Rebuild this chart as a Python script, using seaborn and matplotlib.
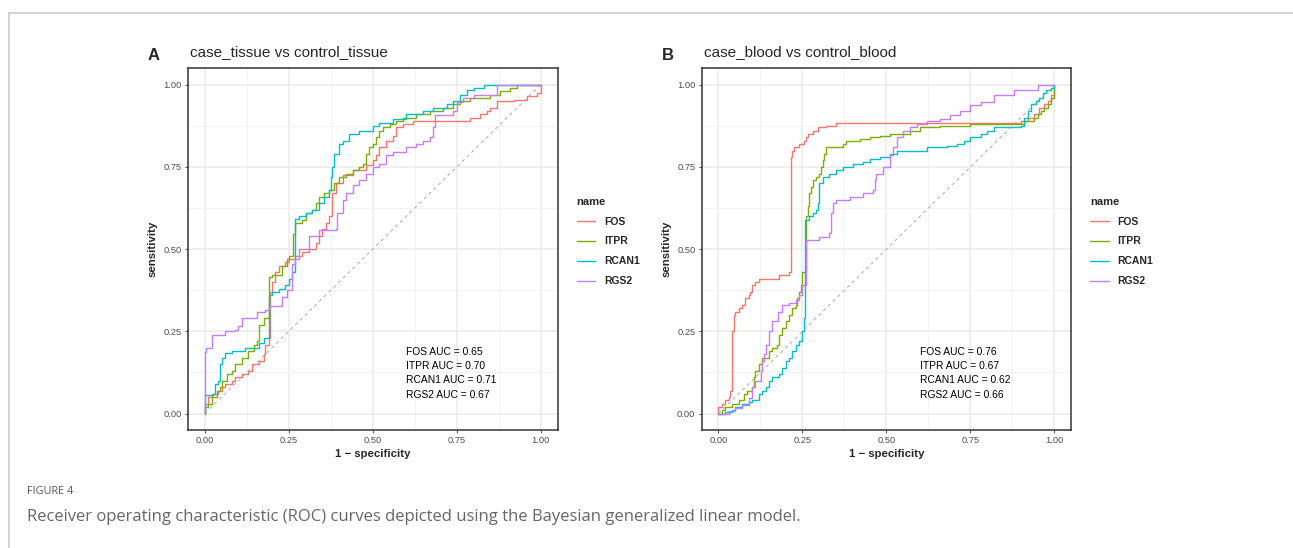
import numpy as np
import pandas as pd
import matplotlib
matplotlib.use("Agg")
import matplotlib.pyplot as plt
from matplotlib.lines import Line2D
import seaborn as sns


genes = ["FOS", "ITPR", "RCAN1", "RGS2"]
palette = ["#F8766D", "#7CAE00", "#00BFC4", "#C77CFF"]
tick_values = [0.0, 0.25, 0.5, 0.75, 1.0]
tick_labels = ["0.00", "0.25", "0.50", "0.75", "1.00"]
minor_values = [0.125, 0.375, 0.625, 0.875]

# panel A: case_tissue vs control_tissue
tissue_fos_fpr = [0.00, 0.00, 0.01, 0.02, 0.04, 0.05, 0.06, 0.08, 0.09, 0.11, 0.13, 0.14, 0.16, 0.175, 0.18, 0.19, 0.195, 0.20, 0.21, 0.22, 0.24, 0.25, 0.27, 0.29, 0.31, 0.33, 0.34, 0.35, 0.36, 0.37, 0.38, 0.39, 0.41, 0.44, 0.48, 0.50, 0.51, 0.52, 0.54, 0.56, 0.57, 0.59, 0.62, 0.79, 0.82, 0.84, 0.85, 0.87, 0.92, 0.96, 0.99, 1.00]
tissue_fos_tpr = [0.00, 0.03, 0.05, 0.06, 0.07, 0.08, 0.09, 0.10, 0.11, 0.12, 0.13, 0.15, 0.16, 0.18, 0.21, 0.23, 0.37, 0.40, 0.43, 0.45, 0.46, 0.47, 0.48, 0.49, 0.50, 0.52, 0.54, 0.56, 0.58, 0.60, 0.67, 0.70, 0.725, 0.74, 0.755, 0.77, 0.785, 0.81, 0.83, 0.845, 0.87, 0.88, 0.89, 0.90, 0.91, 0.92, 0.93, 0.95, 0.955, 0.965, 0.975, 1.00]

tissue_itpr_fpr = [0.00, 0.00, 0.01, 0.02, 0.035, 0.045, 0.05, 0.065, 0.08, 0.09, 0.11, 0.13, 0.145, 0.155, 0.16, 0.175, 0.19, 0.20, 0.23, 0.245, 0.25, 0.262, 0.27, 0.29, 0.30, 0.32, 0.33, 0.34, 0.355, 0.37, 0.385, 0.40, 0.42, 0.44, 0.46, 0.47, 0.48, 0.49, 0.50, 0.51, 0.52, 0.53, 0.55, 0.57, 0.59, 0.63, 0.67, 0.71, 0.74, 0.76, 0.79, 0.85, 0.88, 0.91, 0.93, 1.00]
tissue_itpr_tpr = [0.00, 0.02, 0.03, 0.05, 0.07, 0.08, 0.10, 0.12, 0.13, 0.15, 0.17, 0.19, 0.21, 0.22, 0.27, 0.29, 0.415, 0.42, 0.45, 0.47, 0.48, 0.545, 0.58, 0.59, 0.61, 0.62, 0.64, 0.66, 0.67, 0.68, 0.70, 0.72, 0.73, 0.74, 0.75, 0.76, 0.79, 0.81, 0.82, 0.84, 0.86, 0.87, 0.88, 0.89, 0.90, 0.91, 0.92, 0.93, 0.94, 0.95, 0.96, 0.97, 0.98, 0.99, 1.00, 1.00]

tissue_rcan1_fpr = [0.00, 0.00, 0.025, 0.03, 0.04, 0.045, 0.05, 0.06, 0.08, 0.12, 0.16, 0.175, 0.19, 0.20, 0.22, 0.24, 0.25, 0.26, 0.268, 0.28, 0.30, 0.32, 0.34, 0.355, 0.37, 0.375, 0.38, 0.385, 0.40, 0.41, 0.43, 0.46, 0.50, 0.52, 0.56, 0.60, 0.65, 0.68, 0.72, 0.74, 0.76, 0.78, 0.80, 0.83, 1.00]
tissue_rcan1_tpr = [0.00, 0.055, 0.06, 0.09, 0.10, 0.15, 0.17, 0.185, 0.19, 0.20, 0.215, 0.23, 0.36, 0.37, 0.38, 0.39, 0.41, 0.43, 0.593, 0.60, 0.61, 0.62, 0.64, 0.66, 0.68, 0.72, 0.75, 0.79, 0.82, 0.83, 0.85, 0.86, 0.876, 0.885, 0.895, 0.91, 0.92, 0.93, 0.94, 0.95, 0.97, 0.985, 0.99, 1.00, 1.00]

tissue_rgs2_fpr = [0.00, 0.00, 0.005, 0.02, 0.06, 0.09, 0.10, 0.11, 0.155, 0.18, 0.19, 0.23, 0.245, 0.26, 0.27, 0.28, 0.31, 0.34, 0.39, 0.395, 0.41, 0.42, 0.44, 0.46, 0.48, 0.50, 0.52, 0.54, 0.56, 0.60, 0.63, 0.65, 0.67, 0.68, 0.685, 0.74, 0.75, 0.77, 0.80, 0.87, 1.00]
tissue_rgs2_tpr = [0.00, 0.188, 0.20, 0.24, 0.25, 0.255, 0.265, 0.29, 0.31, 0.315, 0.327, 0.355, 0.375, 0.456, 0.47, 0.50, 0.54, 0.557, 0.56, 0.61, 0.65, 0.67, 0.695, 0.71, 0.73, 0.75, 0.76, 0.785, 0.795, 0.81, 0.82, 0.83, 0.84, 0.87, 0.907, 0.92, 0.947, 0.96, 0.97, 1.00, 1.00]

# panel B: case_blood vs control_blood
blood_fos_fpr = [0.00, 0.00, 0.01, 0.02, 0.03, 0.035, 0.04, 0.045, 0.05, 0.06, 0.07, 0.08, 0.09, 0.095, 0.10, 0.11, 0.12, 0.18, 0.21, 0.215, 0.22, 0.225, 0.24, 0.255, 0.26, 0.265, 0.28, 0.295, 0.32, 0.35, 0.90, 0.92, 0.94, 0.955, 0.97, 0.98, 0.99, 1.00]
blood_fos_tpr = [0.00, 0.02, 0.03, 0.04, 0.05, 0.07, 0.25, 0.30, 0.31, 0.32, 0.33, 0.35, 0.36, 0.37, 0.39, 0.40, 0.41, 0.42, 0.43, 0.78, 0.80, 0.81, 0.82, 0.83, 0.84, 0.85, 0.86, 0.87, 0.875, 0.884, 0.89, 0.90, 0.91, 0.93, 0.94, 0.95, 0.97, 1.00]

blood_itpr_fpr = [0.00, 0.01, 0.02, 0.04, 0.06, 0.075, 0.085, 0.10, 0.105, 0.11, 0.12, 0.13, 0.15, 0.16, 0.175, 0.18, 0.19, 0.20, 0.21, 0.22, 0.23, 0.235, 0.24, 0.245, 0.25, 0.26, 0.265, 0.27, 0.275, 0.28, 0.29, 0.30, 0.305, 0.31, 0.315, 0.32, 0.37, 0.38, 0.42, 0.45, 0.48, 0.51, 0.57, 0.60, 0.66, 0.75, 0.91, 0.94, 0.95, 0.96, 0.97, 0.98, 0.99, 1.00, 1.00]
blood_itpr_tpr = [0.00, 0.01, 0.02, 0.03, 0.04, 0.06, 0.07, 0.08, 0.11, 0.13, 0.15, 0.17, 0.19, 0.20, 0.21, 0.24, 0.26, 0.28, 0.30, 0.32, 0.33, 0.35, 0.37, 0.39, 0.43, 0.60, 0.63, 0.67, 0.69, 0.71, 0.72, 0.73, 0.75, 0.77, 0.79, 0.81, 0.82, 0.83, 0.835, 0.84, 0.845, 0.85, 0.86, 0.87, 0.875, 0.88, 0.89, 0.90, 0.91, 0.92, 0.93, 0.94, 0.96, 0.97, 1.00]

blood_rcan1_fpr = [0.00, 0.02, 0.04, 0.05, 0.07, 0.09, 0.10, 0.12, 0.13, 0.14, 0.15, 0.16, 0.18, 0.19, 0.20, 0.21, 0.22, 0.23, 0.24, 0.25, 0.254, 0.258, 0.27, 0.28, 0.29, 0.295, 0.30, 0.31, 0.33, 0.35, 0.37, 0.40, 0.43, 0.45, 0.48, 0.51, 0.53, 0.62, 0.68, 0.71, 0.73, 0.75, 0.78, 0.80, 0.82, 0.90, 0.91, 0.92, 0.93, 0.945, 0.955, 0.965, 0.975, 0.99, 1.00]
blood_rcan1_tpr = [0.00, 0.005, 0.01, 0.02, 0.03, 0.035, 0.04, 0.06, 0.07, 0.08, 0.10, 0.11, 0.12, 0.14, 0.16, 0.17, 0.19, 0.21, 0.22, 0.25, 0.29, 0.59, 0.60, 0.61, 0.62, 0.64, 0.70, 0.72, 0.73, 0.74, 0.75, 0.76, 0.765, 0.775, 0.78, 0.79, 0.80, 0.81, 0.815, 0.82, 0.83, 0.84, 0.85, 0.86, 0.87, 0.875, 0.90, 0.92, 0.94, 0.95, 0.96, 0.975, 0.985, 0.99, 1.00]

blood_rgs2_fpr = [0.00, 0.03, 0.05, 0.07, 0.09, 0.10, 0.11, 0.126, 0.13, 0.135, 0.14, 0.15, 0.16, 0.176, 0.19, 0.21, 0.23, 0.24, 0.25, 0.26, 0.30, 0.33, 0.335, 0.34, 0.35, 0.39, 0.43, 0.46, 0.465, 0.47, 0.49, 0.51, 0.52, 0.53, 0.55, 0.57, 0.59, 0.62, 0.66, 0.69, 0.72, 0.75, 0.78, 0.82, 0.88, 0.95, 1.00]
blood_rgs2_tpr = [0.00, 0.008, 0.016, 0.026, 0.047, 0.08, 0.10, 0.13, 0.16, 0.18, 0.21, 0.25, 0.28, 0.31, 0.33, 0.335, 0.345, 0.36, 0.39, 0.527, 0.537, 0.55, 0.61, 0.64, 0.65, 0.66, 0.67, 0.68, 0.71, 0.73, 0.75, 0.785, 0.81, 0.84, 0.86, 0.87, 0.88, 0.89, 0.897, 0.907, 0.92, 0.937, 0.947, 0.968, 0.985, 1.00, 1.00]

tissue_auc = [0.65, 0.70, 0.71, 0.67]
blood_auc = [0.76, 0.67, 0.62, 0.66]


def make_df(curves):
    frames = []
    for gene, (fpr, tpr) in zip(genes, curves):
        frames.append(pd.DataFrame({"fpr": fpr, "tpr": tpr, "name": gene}))
    return pd.concat(frames, ignore_index=True)


tissue_df = make_df([(tissue_fos_fpr, tissue_fos_tpr), (tissue_itpr_fpr, tissue_itpr_tpr),
                     (tissue_rcan1_fpr, tissue_rcan1_tpr), (tissue_rgs2_fpr, tissue_rgs2_tpr)])
blood_df = make_df([(blood_fos_fpr, blood_fos_tpr), (blood_itpr_fpr, blood_itpr_tpr),
                    (blood_rcan1_fpr, blood_rcan1_tpr), (blood_rgs2_fpr, blood_rgs2_tpr)])

sns.set_theme(style="white")
plt.rcParams["font.family"] = ["Liberation Sans", "DejaVu Sans"]

W, H = 1293, 548
fig = plt.figure(figsize=(W / 100, H / 100), dpi=100)


def draw_panel(left_px, df, aucs, letter, title):
    ax = fig.add_axes([left_px / W, 1 - 430 / H, 369.5 / W, 361.7 / H])
    ax.set_xlim(-0.05, 1.05)
    ax.set_ylim(-0.05, 1.05)
    ax.set_xticks(tick_values, tick_labels)
    ax.set_yticks(tick_values, tick_labels)
    ax.set_xticks(minor_values, minor=True)
    ax.set_yticks(minor_values, minor=True)
    ax.grid(which="major", color="#EBEBEB", linewidth=1.1)
    ax.grid(which="minor", color="#F2F2F2", linewidth=0.7)
    ax.set_axisbelow(True)

    sns.lineplot(data=df, x="fpr", y="tpr", hue="name", hue_order=genes, palette=palette,
                 estimator=None, sort=False, drawstyle="steps-post", linewidth=1.0,
                 legend=False, ax=ax)
    ax.plot([0, 1], [0, 1], linestyle=(0, (4, 4)), color="#A0A0A0", linewidth=0.6)

    ax.tick_params(which="major", length=2.5, width=0.6, color="#333333", labelsize=6.7,
                   labelcolor="#4D4D4D", pad=2, bottom=True, left=True)
    ax.tick_params(which="minor", length=0)
    for sp in ax.spines.values():
        sp.set_color("#333333")
        sp.set_linewidth(1.1)
    ax.set_xlabel("1 \u2212 specificity", fontsize=8.2, fontweight="bold", labelpad=3)
    ax.set_ylabel("sensitivity", fontsize=8.2, fontweight="bold", labelpad=4)

    for i, (g, a) in enumerate(zip(genes, aucs)):
        ax.text(0.60, 0.188 - i * 0.0437, f"{g} AUC = {a:.2f}", fontsize=7.4,
                va="center", ha="left", color="black")

    handles = [Line2D([], [], color=c, linewidth=1.0) for c in palette]
    ax.legend(handles, genes, title="name", loc="upper left",
              bbox_to_anchor=(1.052, 0.645), frameon=False, borderpad=0,
              borderaxespad=0, handlelength=1.8, handletextpad=0.8,
              labelspacing=0.95, alignment="left",
              prop={"size": 7.5, "weight": "bold"},
              title_fontproperties={"size": 8, "weight": "bold"})

    fig.text((left_px - 40) / W, 1 - 55 / H, letter, fontsize=12, fontweight="bold",
             va="center", ha="left")
    fig.text((left_px + 2) / W, 1 - 52 / H, title, fontsize=11, va="center", ha="left")
    return ax


draw_panel(188, tissue_df, tissue_auc, "A", "case_tissue vs control_tissue")
draw_panel(701.7, blood_df, blood_auc, "B", "case_blood vs control_blood")

# page frame and caption
fig.add_artist(Line2D([9 / W, 9 / W], [0, 1 - 13 / H], color="#CCCCCC", linewidth=1.2))
fig.add_artist(Line2D([9 / W, 1], [1 - 13 / H, 1 - 13 / H], color="#CCCCCC", linewidth=1.2))
fig.text(27 / W, 1 - 491 / H, "FIGURE 4", fontsize=7.8, color="#555555",
         family=["Open Sans", "DejaVu Sans"], va="center", ha="left")
fig.text(27 / W, 1 - 517 / H,
         "Receiver operating characteristic (ROC) curves depicted using the Bayesian generalized linear model.",
         fontsize=12, color="#666666", family=["Open Sans", "DejaVu Sans"],
         va="center", ha="left")

fig.savefig("out.png", dpi=100)
